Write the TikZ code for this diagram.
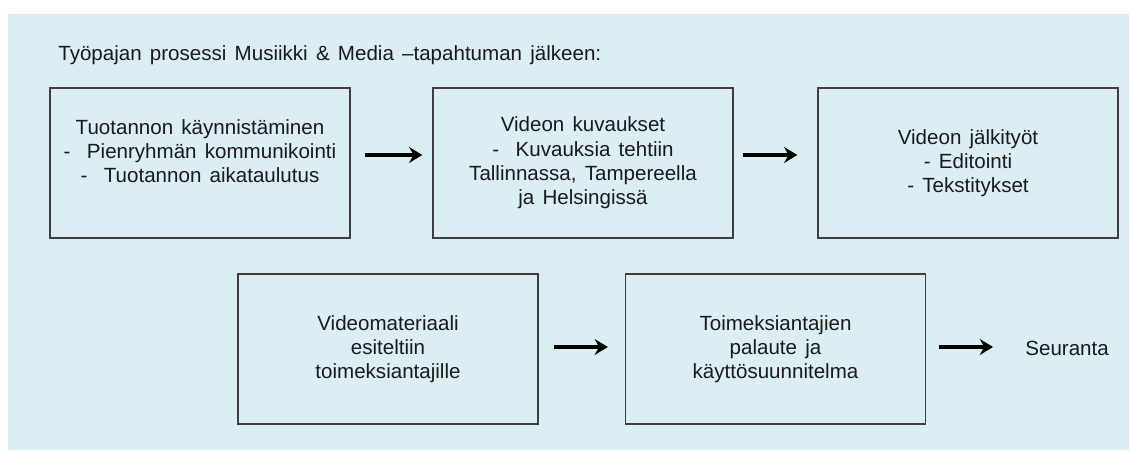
\documentclass[tikz,border=0pt]{standalone}
\usepackage{fontspec}
\setmainfont{Liberation Sans}
\usetikzlibrary{positioning, arrows.meta}
\definecolor{bgblue}{HTML}{DAEEF3}
\definecolor{edgegray}{HTML}{3F3F3F}
\definecolor{inkblack}{HTML}{1A1A1A}
\newcommand{\stagefont}{\fontsize{11.7}{13.8}\selectfont\spaceskip=0.4em plus 0.1em\relax}

\begin{document}
\begin{tikzpicture}[
				x=0.02cm, y=-0.02cm,
				stage/.style={rectangle, draw=edgegray, line width=0.8pt, minimum width=6cm, minimum height=3cm, inner sep=0pt, align=center, text=inkblack, font=\stagefont},
				plain/.style={inner sep=0pt, text=inkblack, font=\stagefont},
				flow/.style={-{Stealth[length=7.5pt, width=9pt, inset=2.5pt]}, line width=1.8pt, shorten <=0.28cm, shorten >=0.2cm}
			]

			\useasboundingbox (0,0) rectangle (1129,450);
			\fill[bgblue] (8,14) rectangle (1129,450);

			\node[plain, anchor=base west] (title) at (58,60) {Työpajan prosessi Musiikki \& Media –tapahtuman jälkeen:};

			% First row
			\node[stage] (start) at (200,163) {Tuotannon käynnistäminen\\ - \ Pienryhmän kommunikointi\\ - \ Tuotannon aikataulutus\\ \mbox{}};
			\node[stage] (shoot) at (583,163) {Videon kuvaukset\\ - \ Kuvauksia tehtiin\\ Tallinnassa, Tampereella\\ ja Helsingissä};
			\node[stage] (post) at (968,163) {Videon jälkityöt\\ - Editointi\\ - Tekstitykset};
			\draw[flow] ([yshift=0.16cm]start.east) -- ([yshift=0.16cm]shoot.west);
			\draw[flow, shorten <=0.18cm, shorten >=0.4cm] ([yshift=0.16cm]shoot.east) -- ([yshift=0.16cm]post.west);

			% Second row
			\node[stage] (show) at (388,349) {Videomateriaali\\ esiteltiin\\ toimeksiantajille};
			\node[stage] (feedback) at (775.5,349) {Toimeksiantajien\\ palaute ja\\ käyttösuunnitelma};
			\node[plain, anchor=west] (follow) at (1025,348) {Seuranta};
			\draw[flow, shorten <=0.3cm, shorten >=0.34cm] ([yshift=0.04cm]show.east) -- ([yshift=0.04cm]feedback.west);
			\draw[flow, shorten <=0.26cm, shorten >=0.64cm] ([yshift=0.04cm]feedback.east) -- ([yshift=0.04cm]feedback.east -| follow.west);

		\end{tikzpicture}
\end{document}
